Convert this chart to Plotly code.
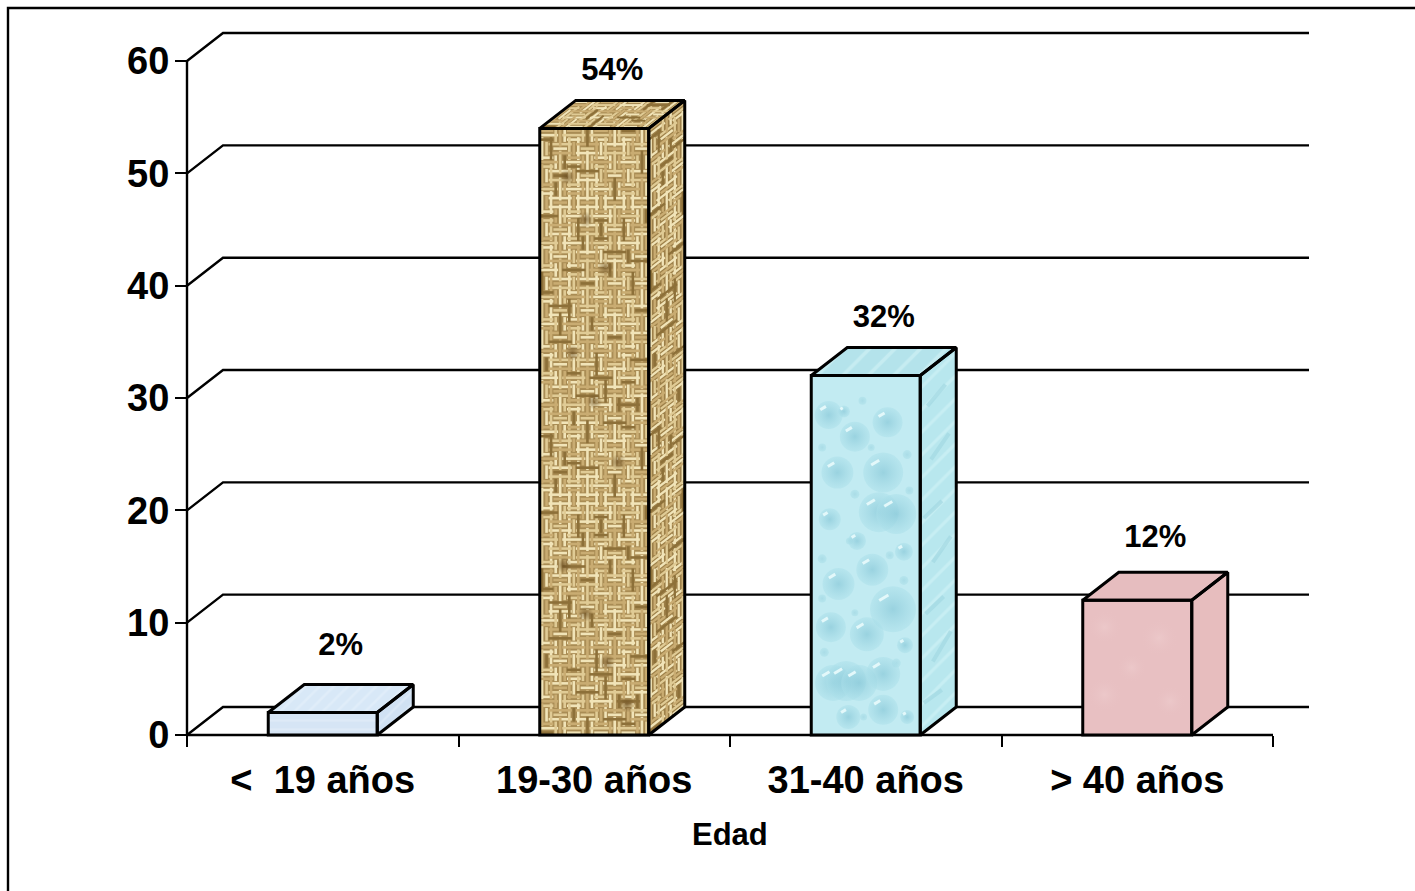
import plotly.graph_objects as go

# Chart data
categories = ["<\u00a0\u00a019 años", "19-30 años", "31-40 años", "> 40 años"]
values = [2, 54, 32, 12]
value_ticks = [0, 10, 20, 30, 40, 50, 60]
axis_name = "Edad"

# Canvas, and where the chart's origin and far corner fall (pixels)
WIDTH, HEIGHT = 1415, 891
LEFT, RIGHT, TOP, BOTTOM = 187, 1309, 33, 735
PAD = 10                  # spare room round the chart so its edge rules are not cut
CAT_PX = 271.5
UNIT_PX = 11.233
DX = 36 / CAT_PX          # depth of the 3D box along x, in category units
DY = 28 / UNIT_PX         # depth of the 3D box along y, in value units
BAR_W = 109 / CAT_PX
INK = "#000000"
FONT = "Liberation Sans, Arial, sans-serif"
RULE_W = 2.4
EDGE_W = 3

n = len(categories)
plot_w = RIGHT - LEFT + 2 * PAD
plot_h = BOTTOM - TOP + 2 * PAD
x_range = [-PAD / CAT_PX, (RIGHT - LEFT + PAD) / CAT_PX]
y_range = [-PAD / UNIT_PX, (BOTTOM - TOP + PAD) / UNIT_PX]

fig = go.Figure()


def line(xs, ys, width=RULE_W):
    fig.add_trace(go.Scatter(x=xs, y=ys, mode="lines", cliponaxis=False, hoverinfo="skip",
                             line=dict(color=INK, width=width)))


def fill_face(corners, color, pattern=None):
    xs = [c[0] for c in corners]
    ys = [c[1] for c in corners]
    fig.add_trace(go.Scatter(x=xs + xs[:1], y=ys + ys[:1], mode="lines", fill="toself",
                             fillcolor=color, fillpattern=pattern, cliponaxis=False,
                             hoverinfo="skip", line=dict(width=0)))


def outline_face(corners):
    xs = [c[0] for c in corners]
    ys = [c[1] for c in corners]
    fig.add_trace(go.Scatter(x=xs + xs[:2], y=ys + ys[:2], mode="lines", cliponaxis=False,
                             hoverinfo="skip", line=dict(color=INK, width=EDGE_W)))


def strokes(segments, color, width, opacity=1):
    xs, ys = [], []
    for (xa, ya), (xb, yb) in segments:
        xs += [xa, xb, None]
        ys += [ya, yb, None]
    fig.add_trace(go.Scatter(x=xs, y=ys, mode="lines", hoverinfo="skip", cliponaxis=False,
                             connectgaps=False, opacity=opacity,
                             line=dict(color=color, width=width)))


def soft_spots(xs, ys, sizes, core, rim):
    # Radial markers: the gradient colour sits at the centre, the marker colour at the rim
    fig.add_trace(go.Scatter(x=xs, y=ys, mode="markers", hoverinfo="skip",
                             marker=dict(size=sizes, color=rim, line=dict(width=0),
                                         gradient=dict(type="radial", color=core))))


def weave(corners, cols, rows, width):
    """Basket weave across a parallelogram given as origin, u-corner, opposite, v-corner."""
    o, a, _, b = corners

    def at(u, v):
        return (o[0] + (a[0] - o[0]) * u + (b[0] - o[0]) * v,
                o[1] + (a[1] - o[1]) * u + (b[1] - o[1]) * v)

    cream, straw, tan, umber = "#f1e4b8", "#e0cb95", "#c9ac72", "#8d7039"
    tones = {cream: [], straw: [], tan: [], umber: []}
    threads = (0.17, 0.5, 0.83)
    for c in range(cols):
        for r in range(rows):
            u0, u1 = c / cols, (c + 1) / cols
            v0, v1 = r / rows, (r + 1) / rows
            across = (c + r) % 2 == 0
            for t, f in enumerate(threads):
                key = (c * 5 + r * 3 + t * 7 + c * r) % 11
                tone = umber if key == 0 else tan if key in (1, 2, 3) else straw if key in (4, 5, 6) else cream
                if across:
                    v = v0 + (v1 - v0) * f
                    reach = 0.35 * (u1 - u0) if (c + t) % 2 else 0
                    tones[tone].append((at(max(0, u0 - reach), v), at(min(1, u1 + reach), v)))
                else:
                    u = u0 + (u1 - u0) * f
                    reach = 0.35 * (v1 - v0) if (r + t) % 2 else 0
                    tones[tone].append((at(u, max(0, v0 - reach)), at(u, min(1, v1 + reach))))
    for color, segs in tones.items():
        strokes(segs, color, width)


# Walls: oblique floor-to-back strokes plus the back wall rules
for tick in value_ticks:
    line([0, DX, n + DX], [tick, tick + DY, tick + DY])
line([0, 0], [0, 60])
line([0, n], [0, 0])

# Base colour of each box: front, side, top
front_colors = ["#d8e7f6", "#a98c54", "#c2ebf2", "#e8c0c2"]
side_colors = ["#d3e4f4", "#9d8049", "#bfecf3", "#e7bdbe"]
top_colors = ["#dcebf8", "#a68a52", "#b9e6ee", "#e6bdbf"]
front_patterns = [
    dict(shape="-", fgcolor="#e6f0fa", bgcolor="#d6e5f5", size=9, solidity=0.25),
    None, None, None,
]
side_patterns = [
    dict(shape="/", fgcolor="#e6f0fa", bgcolor="#d0e1f3", size=9, solidity=0.25),
    None,
    dict(shape="/", fgcolor="#d6f5f8", bgcolor="#b8e7ee", size=16, solidity=0.2),
    None,
]
top_patterns = [
    dict(shape="/", fgcolor="#e8f2fb", bgcolor="#d8e8f7", size=10, solidity=0.25),
    None,
    dict(shape="/", fgcolor="#d8f5f8", bgcolor="#b4e3eb", size=18, solidity=0.2),
    None,
]

# Water droplets on the front of the third box: across, up, diameter
droplets = [
    (0.16, 0.89, 28), (0.30, 0.90, 12), (0.70, 0.87, 30), (0.40, 0.83, 30), (0.24, 0.73, 32),
    (0.66, 0.73, 40), (0.62, 0.62, 40), (0.78, 0.615, 40), (0.17, 0.60, 22), (0.42, 0.54, 18),
    (0.85, 0.51, 18), (0.25, 0.42, 32), (0.56, 0.46, 32), (0.75, 0.35, 46), (0.18, 0.30, 30),
    (0.51, 0.28, 34), (0.86, 0.25, 16), (0.20, 0.145, 36), (0.32, 0.15, 40), (0.44, 0.145, 36),
    (0.66, 0.17, 34), (0.66, 0.07, 30), (0.34, 0.05, 24), (0.88, 0.05, 14),
]
# Fine droplets scattered between the larger ones: across, up, diameter
fine_drops = [
    (0.10, 0.80, 8), (0.47, 0.93, 8), (0.88, 0.78, 9), (0.55, 0.80, 7), (0.40, 0.67, 9),
    (0.90, 0.68, 8), (0.10, 0.49, 9), (0.72, 0.50, 8), (0.35, 0.54, 7), (0.10, 0.38, 8),
    (0.40, 0.34, 7), (0.85, 0.43, 9), (0.78, 0.20, 9), (0.12, 0.23, 9), (0.48, 0.05, 7),
]
# Elongated droplet streaks on its side face: across, up, length along the face
side_streaks = [
    (0.45, 0.91, 0.05), (0.55, 0.76, 0.06), (0.35, 0.60, 0.04), (0.6, 0.47, 0.06),
    (0.4, 0.33, 0.04), (0.6, 0.20, 0.07), (0.35, 0.08, 0.03),
]
# Soft mottling on the pink box: across, up, diameter
blotches = [(0.2, 0.8, 34), (0.7, 0.72, 38), (0.45, 0.5, 30), (0.2, 0.3, 36), (0.8, 0.25, 32)]

for i, value in enumerate(values):
    x0 = i + 0.5 - BAR_W / 2
    x1 = x0 + BAR_W
    front = [(x0, 0), (x1, 0), (x1, value), (x0, value)]
    side = [(x1, 0), (x1 + DX, DY), (x1 + DX, value + DY), (x1, value)]
    top = [(x0, value), (x1, value), (x1 + DX, value + DY), (x0 + DX, value + DY)]

    fill_face(side, side_colors[i], side_patterns[i])
    fill_face(top, top_colors[i], top_patterns[i])
    fill_face(front, front_colors[i], front_patterns[i])

    if i == 1:
        weave(front, 8, round(value * UNIT_PX / 13.5), 2.6)
        weave(side, 3, round(value * UNIT_PX / 13.5), 2.3)
        weave(top, 8, 3, 2)
        # Darker wear in the cloth, running in faint diagonals
        wear_u = (0.25, 0.42, 0.6, 0.3, 0.5, 0.72, 0.22, 0.42, 0.62, 0.8)
        wear_v = (0.92, 0.85, 0.77, 0.63, 0.55, 0.45, 0.28, 0.2, 0.12, 0.05)
        soft_spots([x0 + BAR_W * u for u in wear_u], [value * v for v in wear_v], 16,
                   "rgba(96,68,26,0.6)", "rgba(96,68,26,0)")

    if i == 2:
        fine_x = [x0 + u * BAR_W for u, _, _ in fine_drops]
        fine_y = [value * v for _, v, _ in fine_drops]
        soft_spots(fine_x, fine_y, [d for _, _, d in fine_drops],
                   "#9fd6e2", "rgba(165,220,230,0.6)")
        drop_x = [x0 + u * BAR_W for u, _, _ in droplets]
        drop_y = [value * v for _, v, _ in droplets]
        drop_d = [d for _, _, d in droplets]
        soft_spots(drop_x, drop_y, drop_d, "rgba(136,200,216,1)", "rgba(172,224,234,0.75)")
        shine = []
        for x, y, d in zip(drop_x, drop_y, drop_d):
            cx = x - d * 0.2 / CAT_PX
            cy = y + d * 0.25 / UNIT_PX
            half = d * 0.1
            shine.append(((cx - half / CAT_PX, cy - half * 0.6 / UNIT_PX),
                          (cx + half / CAT_PX, cy + half * 0.6 / UNIT_PX)))
        strokes(shine, "#e3f8fa", 3)
        streaks = []
        for u, v, length in side_streaks:
            xa = x1 + u * DX
            ya = value * v + u * DY
            streaks.append(((xa - DX * 0.25, ya - length * value * 0.6),
                            (xa + DX * 0.25, ya + length * value * 0.6)))
        strokes(streaks, "#a3d9e3", 4, opacity=0.7)

    if i == 3:
        soft_spots([x0 + u * BAR_W for u, _, _ in blotches],
                   [value * v for _, v, _ in blotches],
                   [d for _, _, d in blotches],
                   "rgba(240,208,209,0.7)", "rgba(232,192,194,0)")

    outline_face(side)
    outline_face(top)
    outline_face(front)

# Value labels above each box
label_lift = [3.3, 2.5, 2.5, 2.9]
fig.add_trace(go.Scatter(
    x=[i + 0.5 + DX / 2 for i in range(n)],
    y=[v + DY + lift for v, lift in zip(values, label_lift)],
    text=[f"{v}%" for v in values],
    mode="text", textposition="middle center", cliponaxis=False, hoverinfo="skip",
    textfont=dict(family=FONT, size=31, color=INK, weight="bold"),
))

# Outer frame runs along the top and left edges of the canvas only
box_left = LEFT - PAD
box_bottom = BOTTOM + PAD
fx = (8 - box_left) / plot_w
fx_end = (WIDTH - box_left) / plot_w
fy_top = (box_bottom - 8) / plot_h
fy_bot = (box_bottom - HEIGHT) / plot_h
fig.add_shape(type="path", xref="paper", yref="paper", line=dict(color=INK, width=2.4),
              path=f"M {fx} {fy_bot} L {fx} {fy_top} L {fx_end} {fy_top}")

fig.add_annotation(x=n / 2, y=(box_bottom - 834) / plot_h, xref="x", yref="paper", yanchor="middle",
                   text=f"<b>{axis_name}</b>", showarrow=False,
                   font=dict(family=FONT, size=31, color=INK))

fig.update_layout(
    width=WIDTH, height=HEIGHT, autosize=False, showlegend=False,
    paper_bgcolor="#ffffff", plot_bgcolor="rgba(0,0,0,0)",
    margin=dict(l=box_left, r=WIDTH - RIGHT - PAD, t=TOP - PAD, b=HEIGHT - box_bottom, pad=0),
    xaxis=dict(range=x_range, anchor="free", position=PAD / plot_h,
               showgrid=False, zeroline=False, showline=False,
               tickmode="array", tickvals=[i + 0.5 for i in range(n)], ticktext=categories,
               ticks="", ticklen=0, ticklabelstandoff=19,
               tickfont=dict(family=FONT, size=38, color=INK, weight="bold"),
               minor=dict(tickmode="array", tickvals=list(range(n + 1)), ticks="outside",
                          ticklen=11, tickwidth=2.4, tickcolor=INK, showgrid=False)),
    yaxis=dict(range=y_range, anchor="free", position=PAD / plot_w,
               showgrid=False, zeroline=False, showline=False,
               tickmode="array", tickvals=value_ticks, ticks="outside", ticklen=12,
               tickwidth=2.4, tickcolor=INK, ticklabelstandoff=-2,
               tickfont=dict(family=FONT, size=38, color=INK, weight="bold")),
)

fig.write_html("out.html", config=dict(displayModeBar=False))
